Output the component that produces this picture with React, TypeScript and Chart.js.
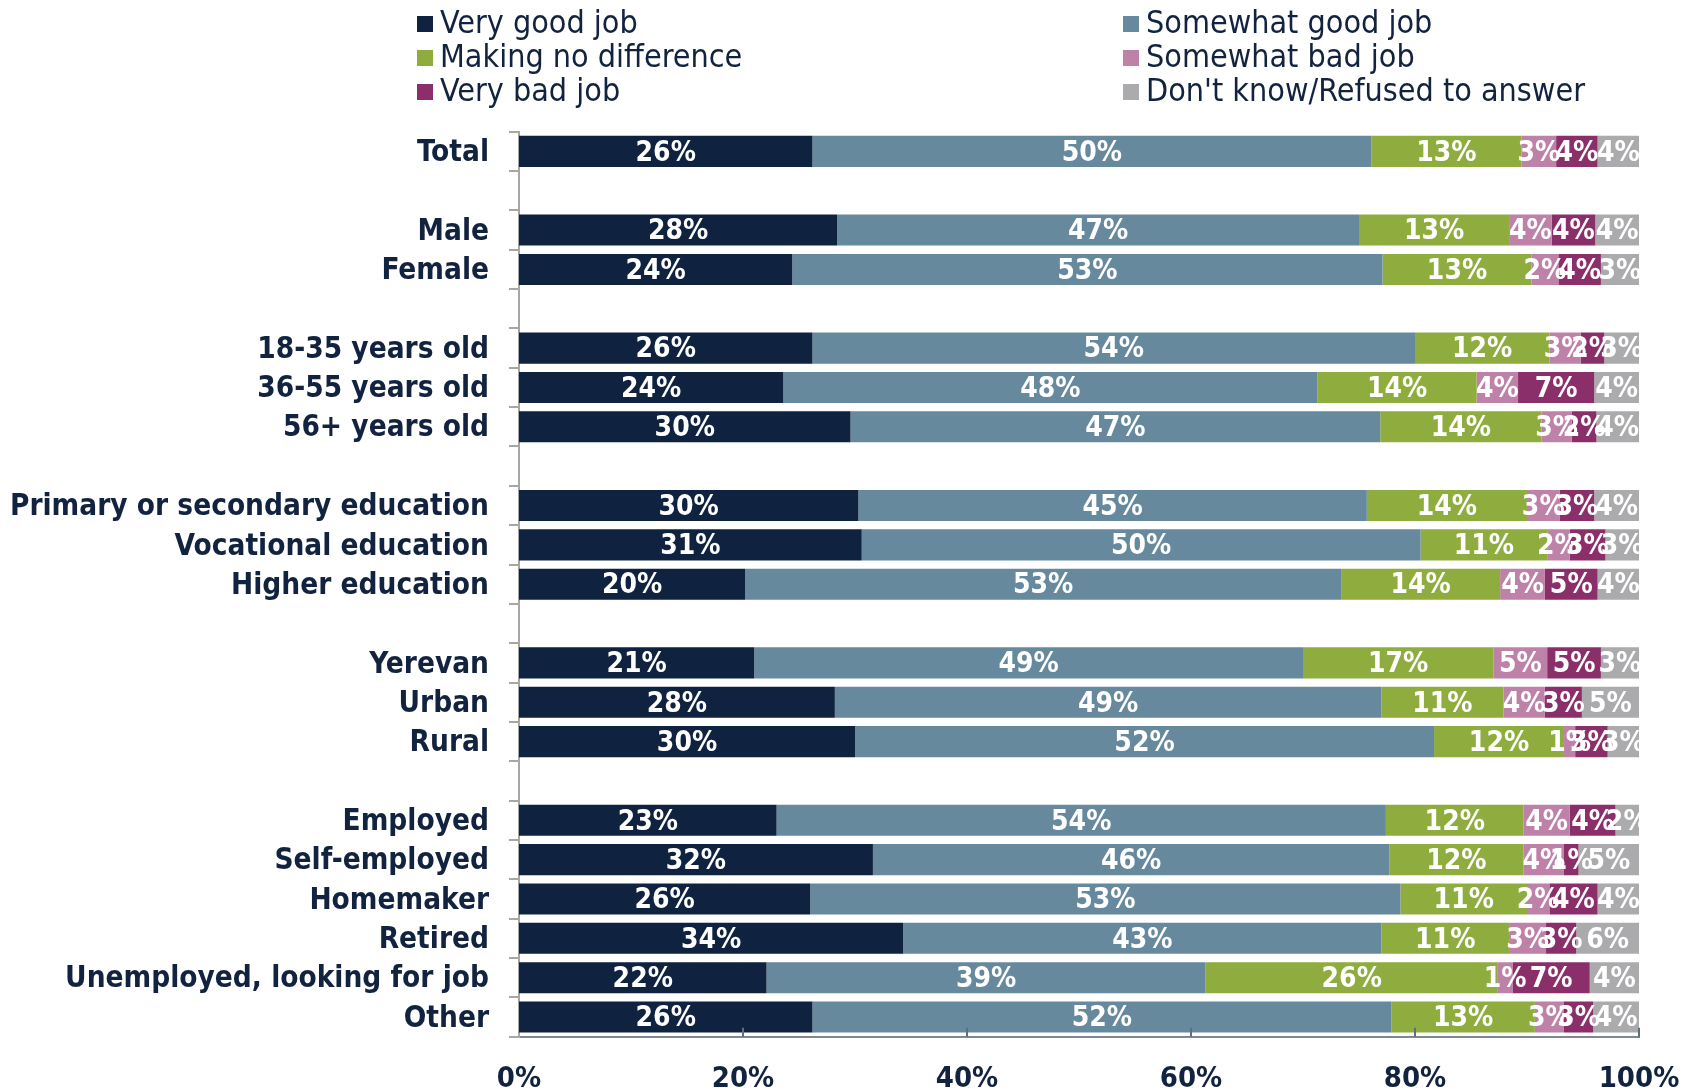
import React, { useEffect, useRef } from "react";
import { Chart, registerables } from "chart.js";

Chart.register(...registerables);

const categories = [
  "Total", "",
  "Male", "Female", "",
  "18-35 years old", "36-55 years old", "56+ years old", "",
  "Primary or secondary education", "Vocational education", "Higher education", "",
  "Yerevan", "Urban", "Rural", "",
  "Employed", "Self-employed", "Homemaker", "Retired", "Unemployed, looking for job", "Other",
];

const seriesNames = [
  "Very good job",
  "Somewhat good job",
  "Making no difference",
  "Somewhat bad job",
  "Very bad job",
  "Don't know/Refused to answer",
];

const veryGood = [26.2, null, 28.4, 24.4, null, 26.2, 23.6, 29.6, null, 30.3, 30.6, 20.2, null, 21.0, 28.2, 30.0, null, 23.0, 31.6, 26.0, 34.3, 22.1, 26.2];
const somewhatGood = [49.9, null, 46.6, 52.7, null, 53.8, 47.7, 47.3, null, 45.4, 49.9, 53.2, null, 49.0, 48.8, 51.7, null, 54.4, 46.1, 52.7, 42.7, 39.2, 51.7];
const noDifference = [13.4, null, 13.4, 13.3, null, 12.0, 14.2, 14.4, null, 14.3, 11.3, 14.2, null, 17.0, 10.9, 11.6, null, 12.3, 12.0, 11.3, 11.4, 26.1, 12.8];
const somewhatBad = [3.1, null, 3.8, 2.4, null, 2.8, 3.7, 2.7, null, 2.9, 2.0, 4.0, null, 4.8, 3.7, 1.0, null, 4.1, 3.6, 2.0, 3.3, 1.3, 2.6];
const veryBad = [3.7, null, 3.9, 3.8, null, 2.1, 6.8, 2.2, null, 3.1, 3.2, 4.7, null, 4.8, 3.3, 2.9, null, 4.1, 1.3, 4.3, 2.7, 6.9, 2.6];
const dontKnow = [3.7, null, 3.9, 3.4, null, 3.1, 4.0, 3.8, null, 4.0, 3.0, 3.7, null, 3.4, 5.1, 2.8, null, 2.1, 5.4, 3.7, 5.6, 4.4, 4.1];

const xTicks = [0, 20, 40, 60, 80, 100];

const colors = ["#0F223F", "#67899E", "#8FAD3E", "#BE82A9", "#8B2F6B", "#ABABAD"];
const TEXT = "#12233F";
const FONT = '"DejaVu Sans Condensed", "DejaVu Sans", sans-serif';

const legendPlugin = {
  id: "twoColLegend",
  afterDraw(chart: any) {
    const ctx = chart.ctx;
    const cols = [417, 1123];
    const rows = [24, 58, 92];
    ctx.save();
    ctx.font = `32px ${FONT}`;
    ctx.textBaseline = "middle";
    ctx.textAlign = "left";
    chart.data.datasets.forEach((ds: any, i: number) => {
      const cx = cols[i % 2];
      const cy = rows[Math.floor(i / 2)];
      ctx.fillStyle = ds.backgroundColor;
      ctx.fillRect(cx, cy - 8, 16, 16);
      ctx.fillStyle = TEXT;
      ctx.fillText(ds.label, cx + 23, cy + 1);
    });
    ctx.restore();
  },
};

const labelPlugin = {
  id: "segLabels",
  afterDatasetsDraw(chart: any) {
    const ctx = chart.ctx;
    ctx.save();
    ctx.font = `bold 28px ${FONT}`;
    ctx.fillStyle = "#FFFFFF";
    ctx.textAlign = "center";
    ctx.textBaseline = "middle";
    chart.data.datasets.forEach((ds: any, i: number) => {
      const meta = chart.getDatasetMeta(i);
      meta.data.forEach((el: any, j: number) => {
        const v = ds.data[j];
        if (v == null) return;
        const cx = (el.x + el.base) / 2;
        ctx.fillText(`${Math.round(v)}%`, cx, el.y + 2);
      });
    });
    ctx.restore();
  },
};

const xTickPlugin = {
  id: "innerXTicks",
  afterDraw(chart: any) {
    const ctx = chart.ctx;
    const xs = chart.scales.x;
    const bottom = chart.chartArea.bottom;
    ctx.save();
    ctx.strokeStyle = "#5E6E7E";
    ctx.lineWidth = 2;
    xTicks.forEach((v) => {
      if (v === 0) return;
      const x = Math.round(xs.getPixelForValue(v));
      ctx.beginPath();
      ctx.moveTo(x, bottom);
      ctx.lineTo(x, bottom - 9);
      ctx.stroke();
    });
    ctx.restore();
  },
};

export default function App() {
  const ref = useRef<HTMLCanvasElement | null>(null);
  useEffect(() => {
    if (!ref.current) return;
    const series = [veryGood, somewhatGood, noDifference, somewhatBad, veryBad, dontKnow];
    const chart = new Chart(ref.current, {
      type: "bar",
      data: {
        labels: categories,
        datasets: series.map((d, i) => ({
          label: seriesNames[i],
          data: d,
          backgroundColor: colors[i],
          borderWidth: 0,
          barPercentage: 0.79,
          categoryPercentage: 1,
        })),
      },
      options: {
        indexAxis: "y",
        animation: false,
        responsive: false,
        maintainAspectRatio: false,
        devicePixelRatio: 1,
        layout: { padding: { top: 131.7, right: 54, bottom: 0, left: 0 } },
        plugins: { legend: { display: false }, tooltip: { enabled: false } },
        scales: {
          x: {
            stacked: true,
            min: 0,
            max: 100,
            afterFit: (s: any) => {
              s.height = 53.3;
              s.paddingLeft = 0;
              s.paddingRight = 0;
            },
            afterBuildTicks: (s: any) => { s.ticks = xTicks.map((v) => ({ value: v })); },
            ticks: {
              callback: (v: any) => `${v}%`,
              color: TEXT,
              font: { family: FONT, size: 29, weight: "bold" },
              padding: 25,
              maxRotation: 0,
            },
            grid: { display: false, drawTicks: false },
            border: { display: true, color: "#7D8894", width: 2 },
          },
          y: {
            stacked: true,
            afterFit: (s: any) => {
              s.width = 519;
              s.paddingTop = 0;
              s.paddingBottom = 0;
            },
            ticks: {
              color: TEXT,
              font: { family: FONT, size: 29.5, weight: "bold" },
              padding: 20,
              labelOffset: 2,
              autoSkip: false,
            },
            grid: { display: true, drawOnChartArea: false, drawTicks: true, tickLength: 10, color: "#A6A6A6", lineWidth: 2 },
            border: { display: true, color: "#A6A6A6", width: 2 },
          },
        },
      },
      plugins: [legendPlugin, labelPlugin, xTickPlugin],
    });
    return () => chart.destroy();
  }, []);
  return (
    <div style={{ position: "absolute", left: 0, top: 0, width: 1693, height: 1090, background: "#fff" }}>
      <canvas ref={ref} width={1693} height={1090} style={{ width: 1693, height: 1090 }} />
    </div>
  );
}
